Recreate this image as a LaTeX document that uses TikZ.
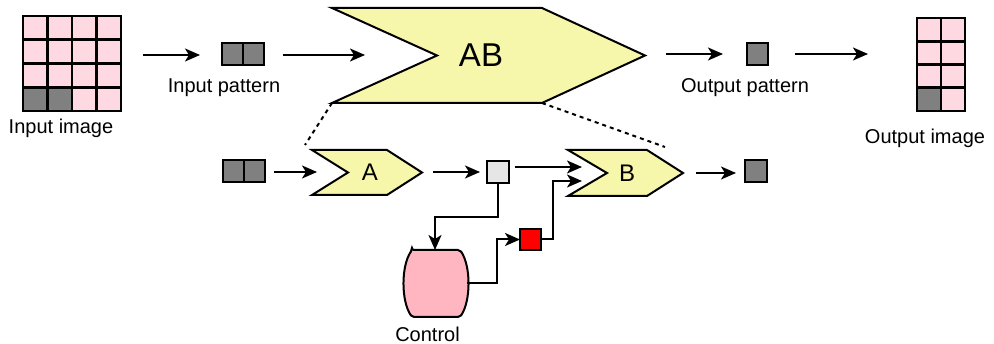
\documentclass[tikz,border=0pt]{standalone}
\usepackage{fontspec}
\setmainfont{Liberation Sans}
\usetikzlibrary{arrows.meta}
\definecolor{cellpink}{HTML}{FFD9E1}
\definecolor{cellgray}{HTML}{808080}
\definecolor{chevyellow}{HTML}{F7F7AB}
\definecolor{ctrlpink}{HTML}{FFB6C1}
\definecolor{lightbox}{HTML}{E6E6E6}
\definecolor{ctrlred}{HTML}{FF0000}
\begin{document}
\begin{tikzpicture}[x=1pt,y=-1pt,line join=miter,
  cell/.style={draw=black,line width=2.8pt,minimum width=24.5pt,minimum height=23.75pt,inner sep=0pt,outer sep=0pt,fill=cellpink},
  ocell/.style={cell,minimum width=24pt,minimum height=23.25pt},
  patbox/.style={draw=black,line width=2pt,fill=cellgray,minimum width=21pt,minimum height=22pt,inner sep=0pt,outer sep=0pt},
  conn/.style={line width=2pt,-{Stealth[length=15pt,width=13pt,inset=4pt]}},
  chev/.style={draw=black,line width=2pt,fill=chevyellow},
  dotline/.style={line width=2pt,dash pattern=on 4pt off 4pt},
  lbl/.style={font=\fontsize{20}{23}\selectfont,inner sep=0pt},
]
\useasboundingbox (0,0) rectangle (994,344);

% ---------- Input image grid ----------
\foreach \r in {0,...,3}{
  \foreach \c in {0,...,3}{
    \node[cell] (in-\r-\c) at ({23+24.5*(\c+0.5)},{16+23.75*(\r+0.5)}) {};
  }
}
\node[cell,fill=cellgray] at (in-3-0) {};
\node[cell,fill=cellgray] at (in-3-1) {};
\node[lbl] (inlbl) at (61,128) {Input image};

% ---------- Input pattern ----------
\node[patbox] (ipa) at (232.5,54) {};
\node[patbox] (ipb) at (253.5,54) {};
\node[lbl] (iplbl) at (224,88) {Input pattern};

\coordinate (a1s) at (143,55);
\coordinate (a1e) at (200,55);
\draw[conn] (a1s) -- (a1e);

% ---------- AB chevron ----------
\coordinate (ABtl) at (332,8);
\coordinate (ABtr) at (542,8);
\coordinate (ABtip) at (645,55.5);
\coordinate (ABbr) at (542,103);
\coordinate (ABbl) at (332,103);
\coordinate (ABnotch) at (437,55.5);
\draw[chev] (ABtl) -- (ABtr) -- (ABtip) -- (ABbr) -- (ABbl) -- (ABnotch) -- cycle;
\node[inner sep=0pt,font=\fontsize{33}{36}\selectfont] (AB) at (481,55) {AB};

\coordinate (a2s) at (283,55);
\coordinate (a2e) at (365,55);
\draw[conn] (a2s) -- (a2e);

\coordinate (a3s) at (666,54);
\coordinate (a3e) at (723,54);
\draw[conn] (a3s) -- (a3e);

% ---------- Output pattern ----------
\node[patbox,minimum height=22pt] (opat) at (757,54) {};
\node[lbl] (oplbl) at (745,88) {Output pattern};

\coordinate (a4s) at (795,54);
\coordinate (a4e) at (868,54);
\draw[conn] (a4s) -- (a4e);

% ---------- Output image grid ----------
\foreach \r in {0,...,3}{
  \foreach \c in {0,1}{
    \node[ocell] (out-\r-\c) at ({917+24*(\c+0.5)},{18+23.25*(\r+0.5)}) {};
  }
}
\node[ocell,fill=cellgray] at (out-3-0) {};
\node[lbl] (outlbl) at (925,138) {Output image};

% ---------- dotted zoom lines ----------
\coordinate (dz1) at (305,145);
\coordinate (dz2) at (665,147);
\draw[dotline] (ABbl) -- (dz1);
\draw[dotline] (ABbr) -- (dz2);

% ---------- Lower row ----------
\node[patbox] (lpa) at (233.5,171) {};
\node[patbox] (lpb) at (254.5,171) {};

\coordinate (b1s) at (274,172);
\coordinate (b1e) at (317,172);
\draw[conn] (b1s) -- (b1e);

% A chevron
\coordinate (Atl) at (312,150);
\coordinate (Atr) at (387,150);
\coordinate (Atip) at (422,172.5);
\coordinate (Abr) at (387,195);
\coordinate (Abl) at (312,195);
\coordinate (Anotch) at (348,172.5);
\draw[chev] (Atl) -- (Atr) -- (Atip) -- (Abr) -- (Abl) -- (Anotch) -- cycle;
\node[inner sep=0pt,font=\fontsize{24}{26}\selectfont] (A) at (370,172.5) {A};

\coordinate (b2s) at (433,172);
\coordinate (b2e) at (480,172);
\draw[conn] (b2s) -- (b2e);

% light box
\node[draw=black,line width=2pt,fill=lightbox,minimum width=22pt,minimum height=22pt,inner sep=0pt,outer sep=0pt] (lbox) at (498,172) {};

% B chevron
\coordinate (Btl) at (568,150);
\coordinate (Btr) at (647,150);
\coordinate (Btip) at (683,173);
\coordinate (Bbr) at (647,196);
\coordinate (Bbl) at (568,196);
\coordinate (Bnotch) at (607,173);
\draw[chev] (Btl) -- (Btr) -- (Btip) -- (Bbr) -- (Bbl) -- (Bnotch) -- cycle;
\node[inner sep=0pt,font=\fontsize{24}{26}\selectfont] (B) at (627,173) {B};

\coordinate (bin1) at (582,167);
\coordinate (bin2) at (582,181);
\draw[conn] (lbox.east |- 0,167) ++(6,0) coordinate (lboxout) -- (bin1);

\coordinate (b3s) at (696,173);
\coordinate (b3e) at (736,173);
\draw[conn] (b3s) -- (b3e);

\node[patbox,minimum width=22pt] (lout) at (756,171) {};

% Control
\coordinate (ctl) at (412,250);
\coordinate (ctr) at (460,250);
\coordinate (cbr) at (460,317);
\coordinate (cbl) at (412,317);
\draw[line width=2pt,fill=ctrlpink,rounded corners=2pt]
  (ctl) -- (ctr) .. controls (471,266) and (471,301) .. (cbr)
  -- (cbl) .. controls (401,301) and (401,266) .. (ctl) -- cycle;
\node[minimum width=62pt,minimum height=67pt,inner sep=0pt,outer sep=0pt] (ctrl) at (436,283.5) {};
\node[lbl] (ctrllbl) at (427.5,334) {Control};

% red box
\node[draw=black,line width=2pt,fill=ctrlred,minimum width=21pt,minimum height=21pt,inner sep=0pt,outer sep=0pt] (red) at (530.5,239.5) {};

% connectors
\draw[conn] (lbox.south) -- (498,217) -- (435,217) -- (ctrl.north -| 435,0);
\draw[conn] (ctrl.east) -- (497,283.5) -- (497,239.5) -- (red.west);
\draw[conn] (red.east) -- (553,239.5) -- (553,181) -- (bin2);

\end{tikzpicture}
\end{document}
